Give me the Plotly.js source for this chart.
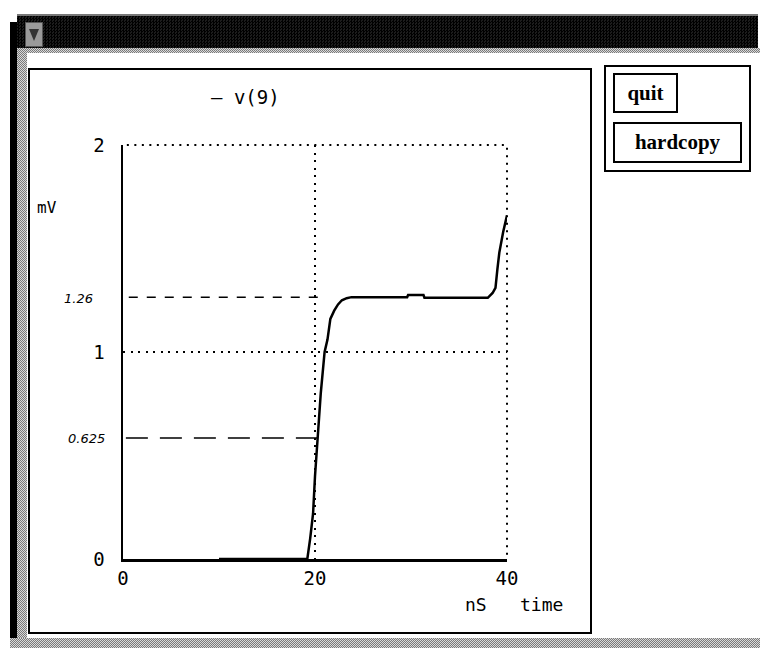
<!DOCTYPE html>
<html>
<head>
<meta charset="utf-8">
<script src="https://cdn.plot.ly/plotly-3.0.1.min.js"></script>
<style>
  html, body { margin: 0; padding: 0; background: #fff; }
  #wrap { position: relative; width: 760px; height: 648px; overflow: hidden; background: #fff; }
  .abs { position: absolute; box-sizing: border-box; }
  .stip { background: repeating-conic-gradient(#7a7a7a 0 25%, #d8d8d8 0 50%) 0 0/2px 2px; }
  #titlebar { left: 17px; top: 14px; width: 741px; height: 34px;
    background: repeating-conic-gradient(#000 0 25%, #1c1c1c 0 50%) 0 0/3px 3px;
    border-top: 2px solid #777; }
  #icon { left: 25px; top: 22px; width: 18px; height: 25px; background: #9a9a9a; border: 1px solid #555; }
  #icon:after { content: ""; position: absolute; left: 3px; top: 6px; border-left: 5px solid transparent;
    border-right: 5px solid transparent; border-top: 12px solid #333; }
  #band { left: 17px; top: 48px; width: 743px; height: 5px; }
  #leftbar { left: 10px; top: 22px; width: 7px; height: 620px; background: #000; }
  #leftstip { left: 17px; top: 48px; width: 10px; height: 600px; }
  #bottomband { left: 10px; top: 638px; width: 750px; height: 10px; }
  #panel { left: 28px; top: 68px; width: 564px; height: 566px; border: 2px solid #000; }
  #side { left: 604px; top: 65px; width: 147px; height: 107px; border: 2px solid #000; }
  .btn { font-family: "Liberation Serif", "DejaVu Serif", serif; font-weight: bold; font-size: 21px;
    border: 2px solid #000; color: #000; display: flex; align-items: center; justify-content: center; background: #fff; }
  #quit { left: 613px; top: 73px; width: 65px; height: 40px; }
  #hard { left: 613px; top: 122px; width: 129px; height: 41px; }
  #plot { left: 0; top: 0; width: 760px; height: 648px; }
</style>
</head>
<body>
<div id="wrap">
  <div class="abs" id="titlebar"></div>
  <div class="abs" id="icon"></div>
  <div class="abs stip" id="band"></div>
  <div class="abs stip" id="leftstip"></div>
  <div class="abs" id="leftbar"></div>
  <div class="abs stip" id="bottomband"></div>
  <div class="abs" id="panel"></div>
  <div class="abs" id="side"></div>
  <div class="abs" id="plot"></div>
  <div class="abs btn" id="quit">quit</div>
  <div class="abs btn" id="hard">hardcopy</div>
</div>
<script>
// v(9) waveform, time in nS, value in mV
const timeNs = [10, 19.2, 19.5, 19.8, 20.0, 20.3, 20.6, 21.0, 21.3, 21.6, 22.0, 22.4, 22.8, 23.3, 23.8, 26, 29.6, 29.7, 31.3, 31.4, 34, 38.0, 38.5, 38.8, 39.0, 39.2, 39.6, 40];
const v9 = [0, 0, 0.1, 0.22, 0.4, 0.59, 0.8, 1.0, 1.06, 1.16, 1.20, 1.23, 1.25, 1.26, 1.265, 1.265, 1.265, 1.275, 1.275, 1.262, 1.262, 1.262, 1.285, 1.31, 1.40, 1.48, 1.58, 1.66];

// hand-drawn marker lines
const mark126X = [0.6, 20.8];
const mark126Y = [1.265, 1.265];
const mark0625X = [0.3, 20.4];
const mark0625Y = [0.585, 0.585];

const xTicks = [0, 20, 40];
const yTicks = [0, 1, 2];

const mono = "DejaVu Sans Mono, monospace";

const traces = [
  { x: mark126X, y: mark126Y, mode: "lines", line: { color: "#000", width: 1.5, dash: "9px,9px" }, hoverinfo: "skip", showlegend: false },
  { x: mark0625X, y: mark0625Y, mode: "lines", line: { color: "#000", width: 1.5, dash: "22px,12px" }, hoverinfo: "skip", showlegend: false },
  { x: timeNs, y: v9, mode: "lines", name: "v(9)", line: { color: "#000", width: 2.5 }, showlegend: false }
];

const gridDash = "2px,5.5px";
const axisCommon = {
  showline: true, linecolor: "#000", linewidth: 2.5,
  showgrid: true, gridcolor: "#000", gridwidth: 2, griddash: gridDash,
  zeroline: false, ticks: "outside", tickcolor: "rgba(0,0,0,0)",
  tickfont: { family: mono, size: 19, color: "#000" }, fixedrange: true
};

function note(x, y, text, font) {
  return { xref: "paper", yref: "paper", x: x, y: y, xanchor: "center", yanchor: "middle",
           text: text, showarrow: false, font: font };
}

const layout = {
  width: 760, height: 648,
  margin: { l: 123, r: 253, t: 145, b: 89 },
  paper_bgcolor: "rgba(0,0,0,0)", plot_bgcolor: "rgba(0,0,0,0)",
  showlegend: false,
  xaxis: Object.assign({}, axisCommon, { range: [0, 40], tickvals: xTicks, ticktext: xTicks.map(String), ticklen: 1 }),
  yaxis: Object.assign({}, axisCommon, { range: [0, 2], tickvals: yTicks, ticktext: yTicks.map(String), ticklen: 12 }),
  // grid lines at the top and right range ends (Plotly omits them at the edges)
  shapes: [
    { type: "line", xref: "paper", yref: "paper", x0: 0.01, x1: 1, y0: 1, y1: 1, line: { color: "#000", width: 2, dash: gridDash } },
    { type: "line", xref: "paper", yref: "paper", x0: 1, x1: 1, y0: 0.01, y1: 1, line: { color: "#000", width: 2, dash: gridDash } }
  ],
  annotations: [
    note(0.320, 1.116, "— v(9)", { family: mono, size: 19, color: "#000" }),
    note(-0.198, 0.850, "mV", { family: mono, size: 16, color: "#000" }),
    note(-0.117, 0.630, "<i>1.26</i>", { family: "DejaVu Sans, sans-serif", size: 13, color: "#000" }),
    note(-0.096, 0.292, "<i>0.625</i>", { family: "DejaVu Sans, sans-serif", size: 13, color: "#000" }),
    note(0.919, -0.109, "nS", { family: mono, size: 18, color: "#000" }),
    note(1.089, -0.109, "time", { family: mono, size: 18, color: "#000" })
  ]
};

Plotly.newPlot("plot", traces, layout, { staticPlot: true, displayModeBar: false });
</script>
</body>
</html>
